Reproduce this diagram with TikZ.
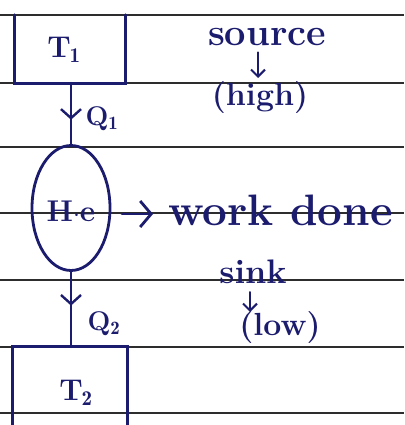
\documentclass[tikz,border=0pt]{standalone}
\usepackage{fontspec}
\usetikzlibrary{shapes.geometric,decorations.markings,arrows.meta}
\definecolor{ink}{RGB}{28,28,110}
\definecolor{ruleline}{RGB}{45,45,45}
\tikzset{
  pen/.style={draw=ink, line width=2.8pt, line cap=round},
  rl/.style={draw=ruleline, line width=1.8pt},
  txt/.style={text=ink, inner sep=0pt},
  midarrow/.style={postaction={decorate}, decoration={markings,
      mark=at position #1 with {\arrow[ink,line width=2.4pt]{Straight Barb[length=9pt,width=20pt]}}}},
  smallarrow/.style={pen, line width=2pt, -{Straight Barb[length=7pt,width=14pt]}},
}
\begin{document}
\begin{tikzpicture}[x=1pt,y=-1pt]
\useasboundingbox (0,0) rectangle (404,425);
\fill[white] (0,0) rectangle (404,425);
% ruled paper lines
\foreach \yy in {15,83,147,213,280,347,413} \draw[rl] (0,\yy) -- (404,\yy);

% source reservoir T1 (top edge is the ruled line)
\node[minimum width=110pt, minimum height=68pt, inner sep=0pt] (T1) at (70,49) {};
\draw[pen] (T1.north west) -- (T1.south west) -- (T1.south east) -- (T1.north east);
\node[txt, font=\fontsize{30}{32}\selectfont\bfseries] (t1) at (64,50) {T\kern-1pt$_{\mathbf{1}}$};

% heat engine
\node[ellipse, pen, minimum width=78pt, minimum height=125pt, inner sep=0pt] (He) at (71,208) {};
\node[txt, font=\fontsize{30}{32}\selectfont\bfseries] (he) at (71,211) {H$\cdot$e};

% sink reservoir T2
\node[minimum width=114pt, minimum height=90pt, inner sep=0pt] (T2) at (70,392) {};
\draw[pen] (T2.south west) -- (T2.north west) -- (T2.north east) -- (T2.south east);
\node[txt, font=\fontsize{30}{32}\selectfont\bfseries] (t2) at (76,393) {T\kern-1pt$_{\mathbf{2}}$};

% heat flows
\draw[pen, midarrow=0.6] (T1.south -| He.north) -- (He.north);
\node[txt, font=\fontsize{27}{29}\selectfont\bfseries] (q1) at (102,119) {Q$_{\mathbf{1}}$};
\draw[pen, midarrow=0.45] (He.south) -- (T2.north -| He.south);
\node[txt, font=\fontsize{27}{29}\selectfont\bfseries] (q2) at (104,324) {Q$_{\mathbf{2}}$};

% work done
\coordinate (w0) at (122,214);
\coordinate (w1) at (153,214);
\draw[pen, -{Straight Barb[length=11pt,width=26pt]}] (w0) -- (w1);
\node[txt, font=\fontsize{44}{46}\selectfont\bfseries, anchor=base west] (work) at (168,225) {work done};

% labels
\node[txt, font=\fontsize{38}{40}\selectfont\bfseries, anchor=base] (source) at (267,46) {source};
\node[txt, font=\fontsize{32}{34}\selectfont\bfseries] (high) at (260,98) {(high)};
\draw[smallarrow] (source.south -| 258,0) ++(0,6) -- (258,78);

\node[txt, font=\fontsize{34}{36}\selectfont\bfseries] (sink) at (253,272) {sink};
\node[txt, font=\fontsize{32}{34}\selectfont\bfseries] (low) at (280,328) {(low)};
\draw[smallarrow] (250,292) -- (250,312);
\end{tikzpicture}
\end{document}
